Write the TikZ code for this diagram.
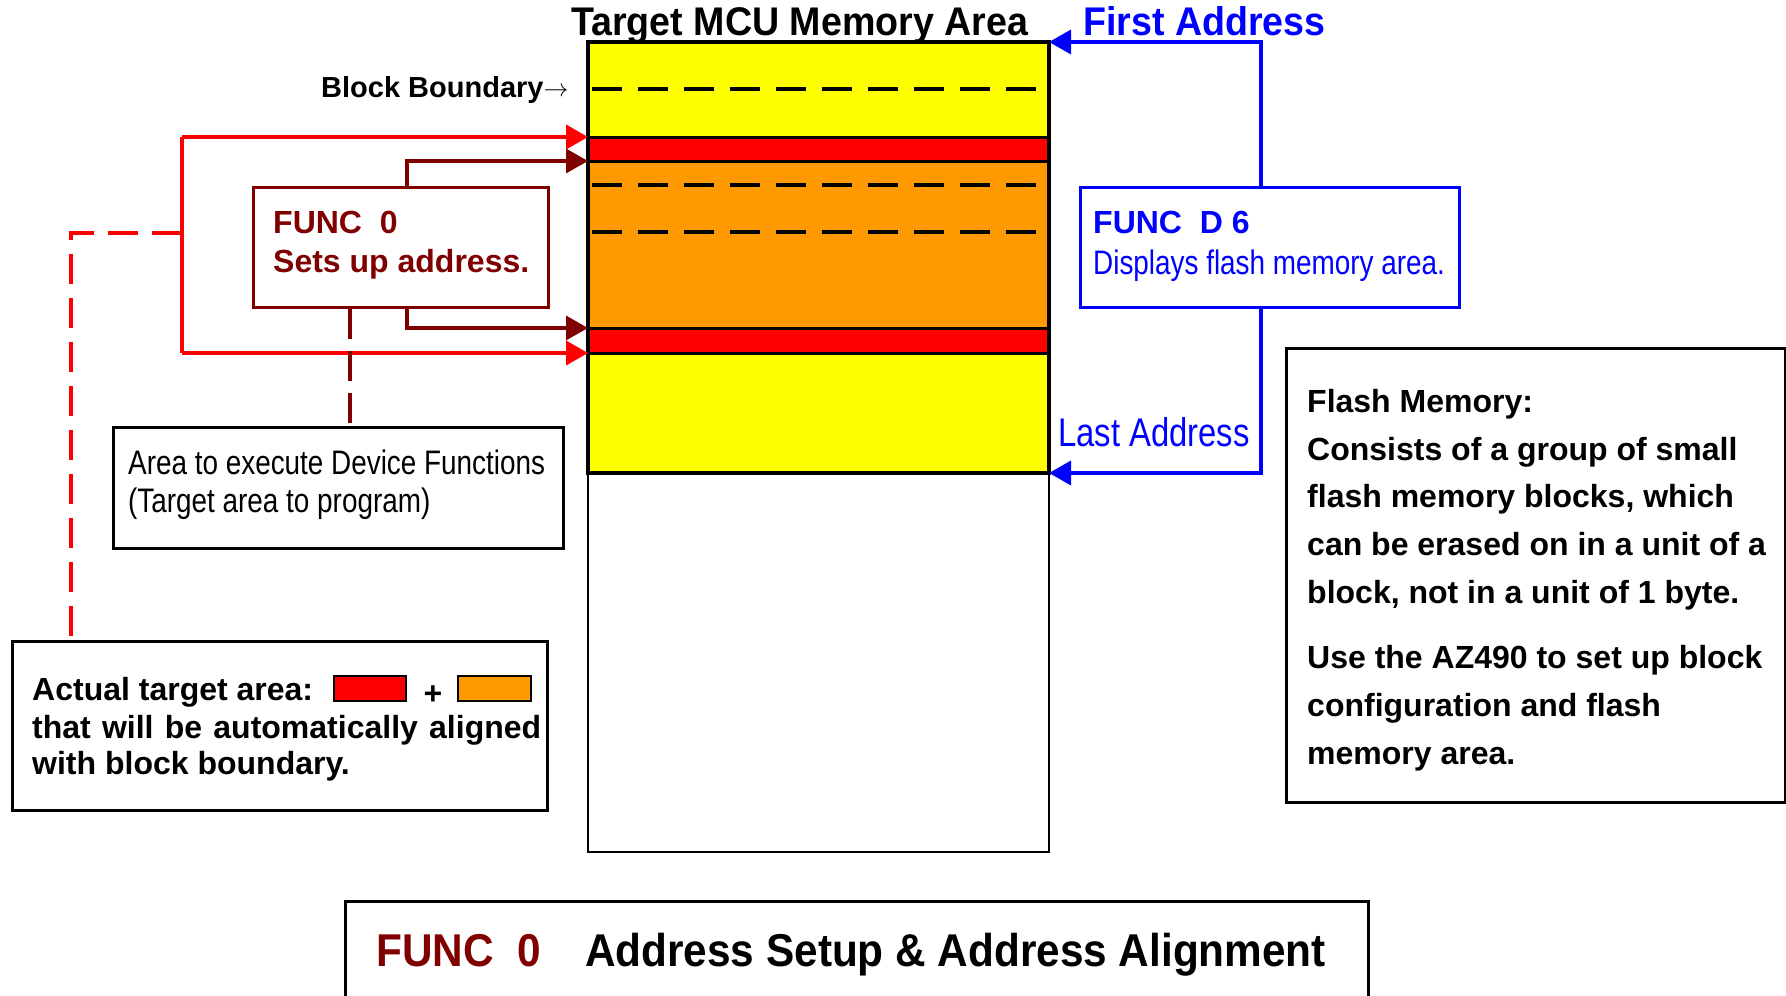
\documentclass[tikz,border=0pt]{standalone}
\usepackage{fontspec}
\setmainfont{Liberation Sans}
\newfontfamily\condb[FakeStretch=0.94]{Liberation Sans}
\newfontfamily\condbb[FakeStretch=0.92]{Liberation Sans}
\newfontfamily\narr[FakeStretch=0.82]{Liberation Sans}
\usetikzlibrary{arrows.meta}
\definecolor{dkred}{HTML}{800000}
\definecolor{myorange}{HTML}{FF9900}
\definecolor{myblue}{HTML}{0000FF}
\definecolor{myred}{HTML}{FF0000}
\definecolor{myyellow}{HTML}{FFFF00}
\tikzset{
  txt/.style={inner sep=0pt, anchor=base west},
  frame/.style={draw, line width=3pt, inner sep=0pt, anchor=north west},
  blockline/.style={line width=3.2pt, dash pattern=on 30pt off 16pt},
  bandline/.style={line width=3pt},
  redarrow/.style={draw=myred, line width=4pt, -{Triangle[length=22pt,width=24pt]}},
  dkarrow/.style={draw=dkred, line width=3.5pt, -{Triangle[length=22pt,width=24pt]}},
  bluearrow/.style={draw=myblue, line width=3.5pt, -{Triangle[length=22pt,width=24pt]}},
  f32/.style={font=\fontsize{32}{40}\selectfont\bfseries},
}
\begin{document}
\begin{tikzpicture}[x=1pt,y=-1pt]
\useasboundingbox (0,0) rectangle (1786,996);
\fill[white] (0,0) rectangle (1786,996);

% memory area
\fill[myyellow] (588,42) rectangle (1049,137);
\fill[myred] (588,137) rectangle (1049,161);
\fill[myorange] (588,161) rectangle (1049,328);
\fill[myred] (588,328) rectangle (1049,353);
\fill[myyellow] (588,353) rectangle (1049,473);
\foreach \yy in {89,185,232} \draw[blockline] (592,\yy) -- (1049,\yy);
\foreach \yy in {137,161,328,353,473} \draw[bandline] (588,\yy) -- (1049,\yy);
\draw[line width=2.5pt] (588,42) rectangle (1049,852);
\draw[line width=3.5pt] (588,42) rectangle (1049,473);

\coordinate (memTopR) at (1049,42);
\coordinate (memLastR) at (1049,473);
\coordinate (redTop) at (588,137);
\coordinate (dkTop) at (588,161);
\coordinate (dkBot) at (588,328);
\coordinate (redBot) at (588,353);

\node[txt, font=\fontsize{40}{44}\condb\bfseries] (title) at (571,35) {Target MCU Memory Area};
\node[txt, font=\fontsize{40}{44}\condb\bfseries, text=myblue] (first) at (1083,35) {First Address};
\node[txt, font=\fontsize{29}{32}\selectfont\bfseries] (bb) at (321,97) {Block Boundary\raisebox{1pt}{$\rightarrow$}};

% FUNC 0 box
\node[frame, draw=dkred, minimum width=295pt, minimum height=120pt] (f0) at (252,186) {};
\node[txt, f32, text=dkred] (f0a) at (273,233) {FUNC\ \ 0};
\node[txt, f32, text=dkred] (f0b) at (273,272) {Sets up address.};

% FUNC D6 box
\node[frame, draw=myblue, minimum width=379pt, minimum height=120pt] (fd6) at (1079,186) {};
\node[txt, f32, text=myblue] (fd6a) at (1093,233) {FUNC\ \ D 6};
\node[txt, font=\fontsize{34}{40}\narr, text=myblue] (fd6b) at (1093,274) {Displays flash memory area.};

\node[txt, font=\fontsize{40}{44}\narr, text=myblue] (last) at (1058,446) {Last Address};

% Area box
\node[frame, minimum width=450pt, minimum height=121pt] (area) at (112,426) {};
\node[txt, font=\fontsize{34}{40}\narr] (areaa) at (128,474) {Area to execute Device Functions};
\node[txt, font=\fontsize{34}{40}\narr] (areab) at (128,512) {(Target area to program)};

% Actual target box
\node[frame, minimum width=535pt, minimum height=169pt] (act) at (11,640) {};
\node[txt, f32] (acta) at (32,700) {Actual target area:};
\node[draw, line width=2pt, fill=myred, minimum width=72pt, minimum height=25pt, inner sep=0pt, anchor=north west] (swr) at (333,675) {};
\node[txt, f32, anchor=base] (plus) at (433,704) {+};
\node[draw, line width=2pt, fill=myorange, minimum width=73pt, minimum height=25pt, inner sep=0pt, anchor=north west] (swo) at (457,675) {};
\node[txt, f32] (actb) at (32,738) {\makebox[509pt][s]{that will be automatically aligned}};
\node[txt, f32] (actc) at (32,774) {with block boundary.};

% Flash memory box
\node[frame, minimum width=499pt, minimum height=454pt] (flash) at (1285,347) {};
\node[txt, f32] (fl1) at (1307,412) {Flash Memory:};
\node[txt, f32] (fl2) at (1307,460) {Consists of a group of small};
\node[txt, f32] (fl3) at (1307,507) {flash memory blocks, which};
\node[txt, f32] (fl4) at (1307,555) {can be erased on in a unit of a};
\node[txt, f32] (fl5) at (1307,603) {block, not in a unit of 1 byte.};
\node[txt, f32] (fl6) at (1307,668) {Use the AZ490 to set up block};
\node[txt, f32] (fl7) at (1307,716) {configuration and flash};
\node[txt, f32] (fl8) at (1307,764) {memory area.};

% bottom title box
\node[frame, minimum width=1023pt, minimum height=110pt] (bottom) at (344,900) {};
\node[txt, font=\fontsize{46}{50}\condbb\bfseries, text=dkred] (bf0) at (376,966) {FUNC\ \ 0};
\node[txt, font=\fontsize{46}{50}\condbb\bfseries] (bt) at (585,966) {Address Setup \& Address Alignment};

% connectors
\coordinate (rj1) at (182,137);
\coordinate (rj2) at (182,353);
\coordinate (rjm) at (182,233);
\draw[draw=myred, line width=4pt] (rj1) -- (rj2);
\draw[redarrow] (rj1) -- (redTop);
\draw[redarrow] (rj2) -- (redBot);
\draw[draw=myred, line width=4pt, dash pattern=on 30pt off 14pt] (rjm) -| (act.north west -| 71,0);
\draw[dkarrow] (f0.north west -| 407,0) |- (dkTop);
\draw[dkarrow] (f0.south west -| 407,0) |- (dkBot);
\draw[draw=dkred, line width=3.5pt, dash pattern=on 30pt off 12pt] (f0.south west -| 350,0) -- (area.north west -| 350,0);
\draw[bluearrow] (fd6.north west -| 1261,0) |- (memTopR);
\draw[bluearrow] (fd6.south west -| 1261,0) |- (memLastR);
\end{tikzpicture}
\end{document}
